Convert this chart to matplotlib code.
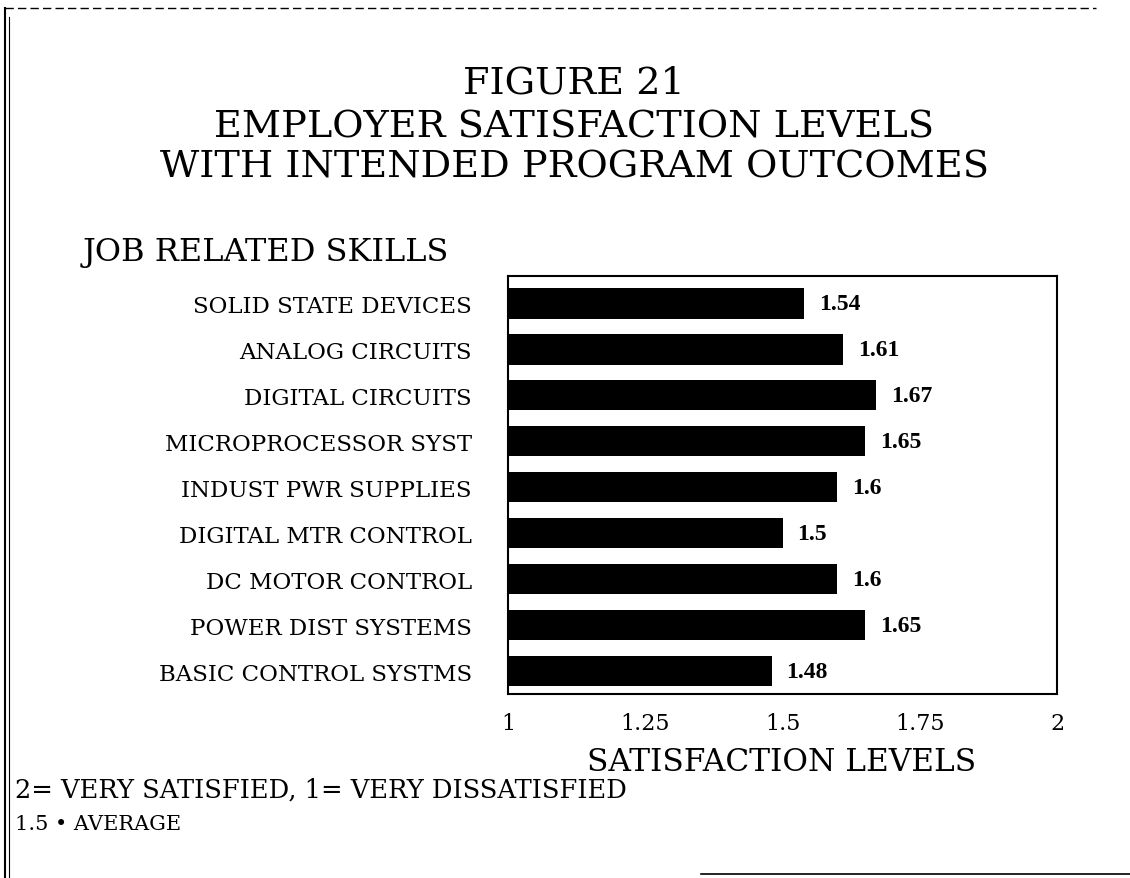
import matplotlib.pyplot as plt
from matplotlib.lines import Line2D

skills = ['SOLID STATE DEVICES', 'ANALOG CIRCUITS', 'DIGITAL CIRCUITS',
          'MICROPROCESSOR SYST', 'INDUST PWR SUPPLIES', 'DIGITAL MTR CONTROL',
          'DC MOTOR CONTROL', 'POWER DIST SYSTEMS', 'BASIC CONTROL SYSTMS']
levels = [1.54, 1.61, 1.67, 1.65, 1.6, 1.5, 1.6, 1.65, 1.48]
level_labels = ['1.54', '1.61', '1.67', '1.65', '1.6', '1.5', '1.6', '1.65', '1.48']
ticks = [1, 1.25, 1.5, 1.75, 2]
tick_labels = ['1', '1.25', '1.5', '1.75', '2']

serif = 'DejaVu Serif'

fig = plt.figure(figsize=(11.3, 8.79), dpi=100)
ax = fig.add_axes([0.4496, 0.2093, 0.4858, 0.4756])

y = list(range(len(skills)))
ax.barh(y, [v - 1 for v in levels], left=1, height=0.67, color='black')
for yi, v, lab in zip(y, levels, level_labels):
    ax.text(v + 0.027, yi, lab, va='center', ha='left', fontsize=17,
            family='Liberation Serif', fontweight='bold')

ax.set_xlim(1, 2)
ax.set_ylim(len(skills) - 0.5, -0.59)
ax.set_yticks(y)
ax.set_yticklabels(skills, family=serif, fontsize=16.5)
ax.set_xticks(ticks)
ax.set_xticklabels(tick_labels, family=serif, fontsize=16)
ax.tick_params(length=0)
ax.tick_params(axis='y', pad=26)
ax.tick_params(axis='x', pad=13)
for s in ax.spines.values():
    s.set_linewidth(1.5)

fig.text(0.508, 0.905, 'FIGURE 21', ha='center', va='center', family=serif, fontsize=27.5)
fig.text(0.508, 0.8555, 'EMPLOYER SATISFACTION LEVELS', ha='center', va='center', family=serif, fontsize=27.5)
fig.text(0.508, 0.810, 'WITH INTENDED PROGRAM OUTCOMES', ha='center', va='center', family=serif, fontsize=27.5)
fig.text(0.0735, 0.7133, 'JOB RELATED SKILLS', ha='left', va='center', family=serif, fontsize=23)
fig.text(0.692, 0.1331, 'SATISFACTION LEVELS', ha='center', va='center', family=serif, fontsize=22.5)
fig.text(0.013, 0.101, '2= VERY SATISFIED, 1= VERY DISSATISFIED', ha='left', va='center', family=serif, fontsize=18.5)
fig.text(0.013, 0.062, '1.5 \u2022 AVERAGE', ha='left', va='center', family=serif, fontsize=15)

# scanned page border
fig.add_artist(Line2D([0.004, 0.004], [0.0, 0.99], color='black', lw=1.5))
fig.add_artist(Line2D([0.008, 0.008], [0.0, 0.98], color='black', lw=0.8))
fig.add_artist(Line2D([0.004, 0.97], [0.99, 0.99], color='black', lw=1, ls=(0, (6, 3))))
fig.add_artist(Line2D([0.62, 1.0], [0.005, 0.005], color='black', lw=1.2))

fig.savefig('out.png', dpi=100)
